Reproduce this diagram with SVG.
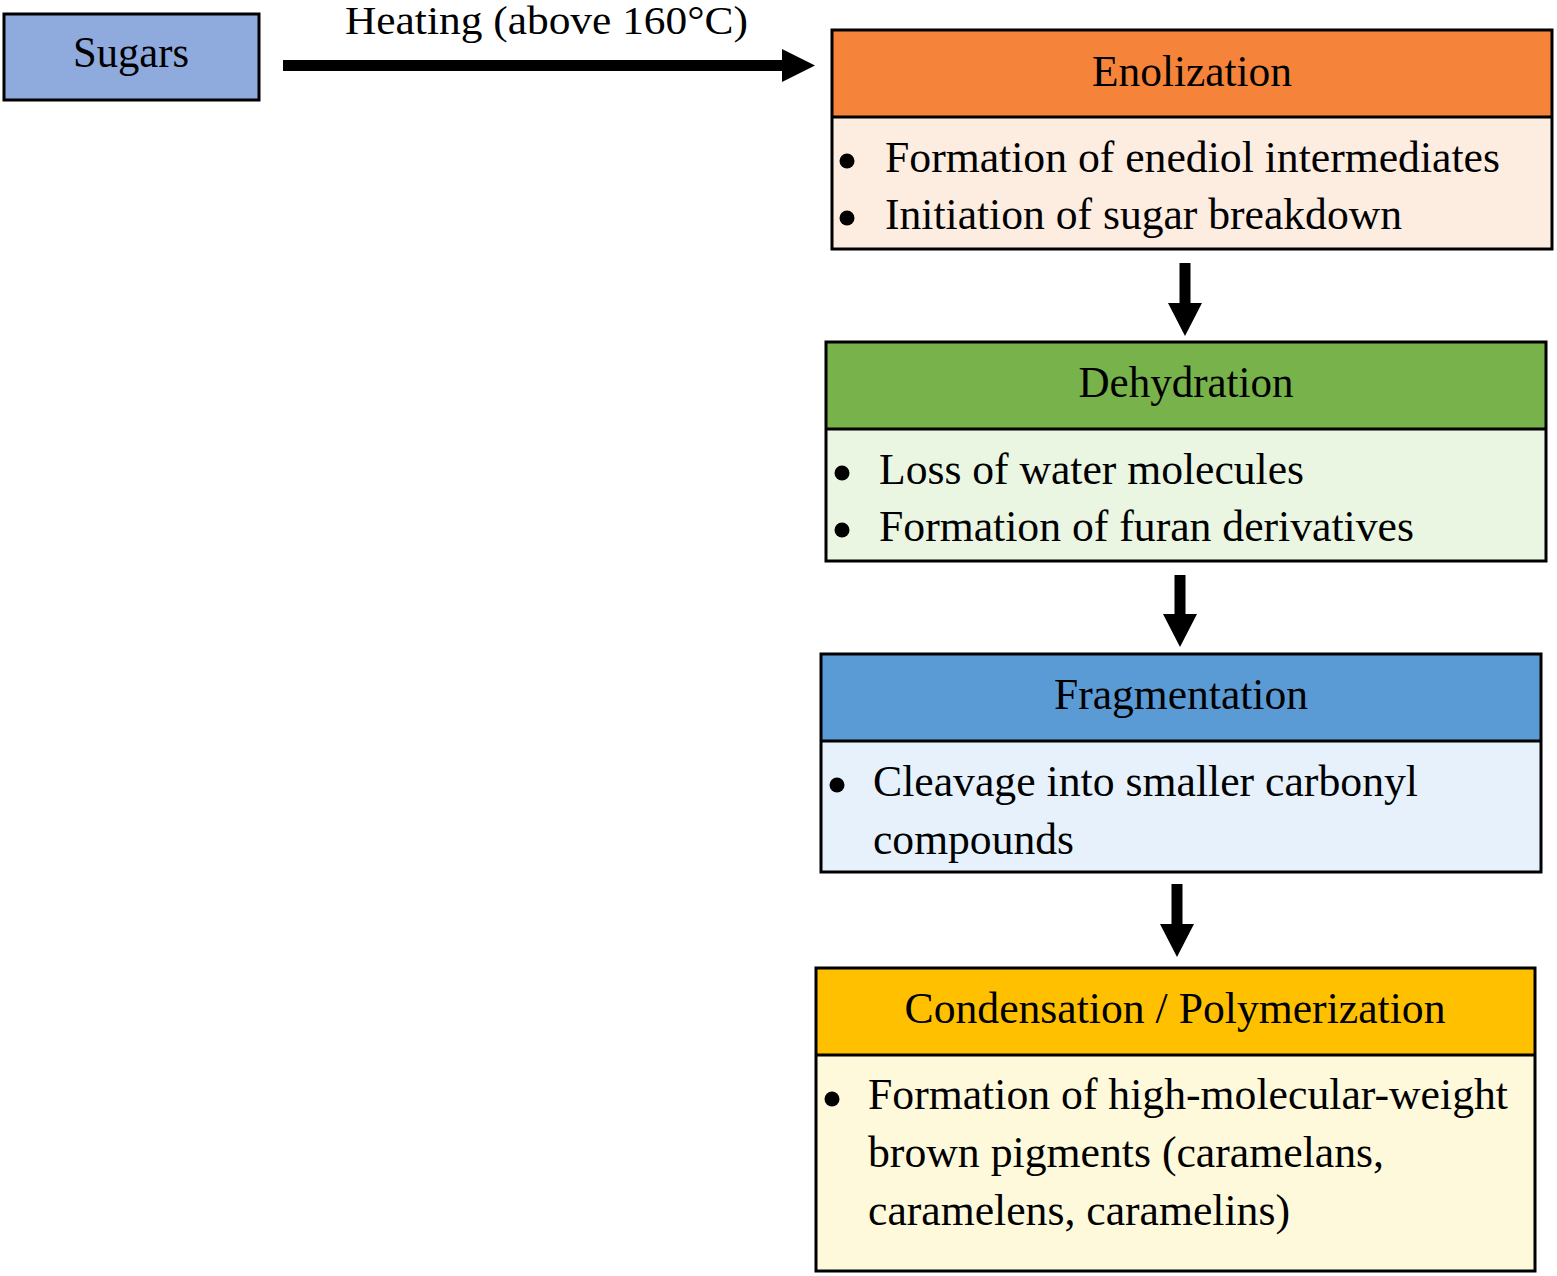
<svg xmlns="http://www.w3.org/2000/svg" width="1557" height="1276" viewBox="0 0 1557 1276">
<style>
text{font-family:"Liberation Serif","Times New Roman",serif;font-size:44px;fill:#000}
.t{text-anchor:middle}
.box{stroke:#000;stroke-width:3}
.div{stroke:#000;stroke-width:3}
.arrow{fill:#000}
</style>
<rect width="1557" height="1276" fill="#fff"/>
<g id="sugars">
<rect class="box" x="4" y="14" width="255" height="86" fill="#8FAADC"/>
<text class="t" x="131" y="67" style="font-size:45px" textLength="116" lengthAdjust="spacingAndGlyphs">Sugars</text>
</g>
<g id="connectors">
<polygon class="arrow" points="283,60 782,60 782,49 815,65.5 782,82 782,71 283,71"/>
<text x="345" y="34" style="font-size:41px" textLength="403" lengthAdjust="spacingAndGlyphs">Heating (above 160°C)</text>
<polygon class="arrow" points="1179.5,263 1190.5,263 1190.5,303 1202,303 1185,336 1168,303 1179.5,303"/>
<polygon class="arrow" points="1174.5,575 1185.5,575 1185.5,614 1197,614 1180,647 1163,614 1174.5,614"/>
<polygon class="arrow" points="1171.5,884 1182.5,884 1182.5,924 1194,924 1177,957 1160,924 1171.5,924"/>
</g>
<g id="enolization">
<rect x="832" y="30" width="720" height="87" fill="#F5843A"/>
<rect x="832" y="117" width="720" height="132" fill="#FDEDE0"/>
<rect class="box" x="832" y="30" width="720" height="219" fill="none"/>
<line class="div" x1="832" y1="117" x2="1552" y2="117"/>
<text class="t" x="1192" y="86" textLength="200" lengthAdjust="spacingAndGlyphs">Enolization</text>
<circle cx="847" cy="161" r="7.5"/>
<text x="885" y="172" textLength="615" lengthAdjust="spacingAndGlyphs">Formation of enediol intermediates</text>
<circle cx="847" cy="218" r="7.5"/>
<text x="885" y="229" textLength="517" lengthAdjust="spacingAndGlyphs">Initiation of sugar breakdown</text>
</g>
<g id="dehydration">
<rect x="826" y="342" width="720" height="87" fill="#77B24B"/>
<rect x="826" y="429" width="720" height="132" fill="#EAF6E1"/>
<rect class="box" x="826" y="342" width="720" height="219" fill="none"/>
<line class="div" x1="826" y1="429" x2="1546" y2="429"/>
<text class="t" x="1186" y="397" textLength="215" lengthAdjust="spacingAndGlyphs">Dehydration</text>
<circle cx="842" cy="473" r="7.5"/>
<text x="879" y="484" textLength="425" lengthAdjust="spacingAndGlyphs">Loss of water molecules</text>
<circle cx="842" cy="530" r="7.5"/>
<text x="879" y="541" textLength="535" lengthAdjust="spacingAndGlyphs">Formation of furan derivatives</text>
</g>
<g id="fragmentation">
<rect x="821" y="654" width="720" height="87" fill="#5B9BD5"/>
<rect x="821" y="741" width="720" height="131" fill="#E6F1FC"/>
<rect class="box" x="821" y="654" width="720" height="218" fill="none"/>
<line class="div" x1="821" y1="741" x2="1541" y2="741"/>
<text class="t" x="1181" y="709" textLength="254" lengthAdjust="spacingAndGlyphs">Fragmentation</text>
<circle cx="837" cy="785" r="7.5"/>
<text x="873" y="796" textLength="545" lengthAdjust="spacingAndGlyphs">Cleavage into smaller carbonyl</text>
<text x="873" y="854" textLength="201" lengthAdjust="spacingAndGlyphs">compounds</text>
</g>
<g id="condensation">
<rect x="816" y="968" width="719" height="87" fill="#FFC000"/>
<rect x="816" y="1055" width="719" height="216" fill="#FEF9DA"/>
<rect class="box" x="816" y="968" width="719" height="303" fill="none"/>
<line class="div" x1="816" y1="1055" x2="1535" y2="1055"/>
<text class="t" x="1175" y="1023" textLength="541" lengthAdjust="spacingAndGlyphs">Condensation / Polymerization</text>
<circle cx="832" cy="1099" r="7.5"/>
<text x="868" y="1109" textLength="640" lengthAdjust="spacingAndGlyphs">Formation of high-molecular-weight</text>
<text x="868" y="1167" textLength="516" lengthAdjust="spacingAndGlyphs">brown pigments (caramelans,</text>
<text x="868" y="1225" textLength="422" lengthAdjust="spacingAndGlyphs">caramelens, caramelins)</text>
</g>
</svg>
